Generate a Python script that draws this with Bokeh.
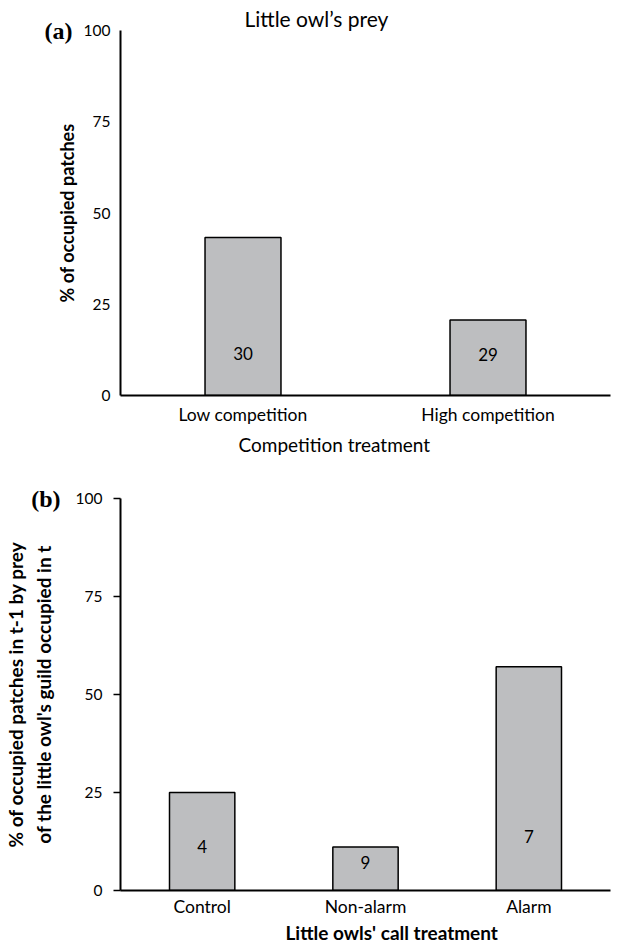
from bokeh.plotting import figure
from bokeh.models import FixedTicker, LinearAxis, Title
from bokeh.layouts import column
from bokeh.embed import file_html
from bokeh.resources import INLINE
from bokeh.core.properties import value

# ---------------- data ----------------
# Panel (a): Little owl's prey
competition = ["Low competition", "High competition"]
occupied_pct_a = [43.3, 20.7]
n_a = ["30", "29"]

# Panel (b): call treatment
call_treatment = ["Control", "Non-alarm", "Alarm"]
occupied_pct_b = [25.0, 11.1, 57.1]
n_b = ["4", "9", "7"]

y_ticks = [0, 25, 50, 75, 100]

# ---------------- style ----------------
GRAY = "#bdbec0"
FONT = "Lato"
n_a_text_y = [11.4, 11.2]
n_b_text_y = [11.2, 7.1, 13.8]


def style_axes(p, ytick_out, ystandoff, label_standoff, xstandoff):
    p.outline_line_color = None
    p.grid.visible = False
    for ax in (p.xaxis[0], p.yaxis[0]):
        ax.axis_line_color = "black"
        ax.axis_line_width = 2
        ax.major_tick_in = 0
        ax.minor_tick_line_color = None
        ax.major_label_text_font = FONT
        ax.major_label_text_color = "black"
        ax.axis_label_text_font = FONT
        ax.axis_label_text_color = "black"
    p.xaxis.major_label_text_font_size = "17.5px"
    p.yaxis.major_label_text_font_size = "15.5px"
    p.xaxis.major_tick_line_color = None
    p.xaxis.major_tick_out = 0
    p.xaxis.major_label_standoff = xstandoff
    p.yaxis.ticker = FixedTicker(ticks=y_ticks)
    p.yaxis.major_tick_out = ytick_out
    p.yaxis.major_tick_line_width = 1.5
    p.yaxis.major_tick_line_color = "black" if ytick_out else None
    p.yaxis.major_label_standoff = ystandoff
    p.yaxis.axis_label_standoff = label_standoff
    p.yaxis.axis_label_text_font_style = "bold"


def panel_tag(text, standoff):
    return LinearAxis(ticker=FixedTicker(ticks=[100]),
                      major_label_overrides={100: text},
                      axis_line_color=None, major_tick_line_color=None,
                      minor_tick_line_color=None, major_tick_out=0,
                      major_tick_in=0, major_label_standoff=standoff,
                      major_label_text_font="Liberation Serif",
                      major_label_text_font_style="bold",
                      major_label_text_font_size="24px",
                      major_label_text_color="black")


def x_title(text, offset, standoff, style):
    return Title(text=text, align="left", offset=offset, standoff=standoff,
                 vertical_align="top", text_font=FONT,
                 text_font_style=style, text_font_size="19px",
                 text_color="black")


# ---------------- panel (a) ----------------
p1 = figure(width=621, height=464, x_range=competition, y_range=(0, 100),
            title="Little owl\u2019s prey",
            output_backend="svg", toolbar_location=None,
            min_border_left=118, min_border_right=11,
            min_border_top=30, min_border_bottom=69)
p1.title.align = "left"
p1.title.offset = 124
p1.title.standoff = 0
p1.title.text_font = FONT
p1.title.text_font_style = "normal"
p1.title.text_font_size = "21px"
p1.title.text_color = "black"
style_axes(p1, 0, 10, 3, 8)
p1.yaxis.axis_label = "% of occupied patches"
p1.yaxis.axis_label_text_font_size = "18px"
p1.add_layout(panel_tag("(a)", -20), "left")
p1.add_layout(x_title("Competition treatment", 118, 11, "normal"), "below")

p1.vbar(x=competition, top=occupied_pct_a, width=0.31, fill_color=GRAY,
        line_color="black", line_width=1.5)
p1.text(x=competition, y=n_a_text_y, text=n_a, text_align="center",
        text_baseline="middle", text_font=value(FONT), text_font_size="17px",
        text_color="black")

# ---------------- panel (b) ----------------
p2 = figure(width=621, height=483, x_range=call_treatment, y_range=(0, 100),
            output_backend="svg", toolbar_location=None,
            min_border_left=120, min_border_right=0,
            min_border_top=34, min_border_bottom=57)
style_axes(p2, 7, 11, 18, 5)
p2.yaxis.axis_label = ("% of occupied patches in t-1 by prey\n"
                       "of the little owl's guild occupied in t")
p2.yaxis.axis_label_text_font_size = "19px"
p2.add_layout(panel_tag("(b)", -60), "left")
p2.add_layout(x_title("Little owls' call treatment", 165, 2, "bold"), "below")

p2.vbar(x=call_treatment, top=occupied_pct_b, width=0.40, fill_color=GRAY,
        line_color="black", line_width=1.5)
p2.text(x=call_treatment, y=n_b_text_y, text=n_b, text_align="center",
        text_baseline="middle", text_font=value(FONT), text_font_size="17px",
        text_color="black")

layout = column(p1, p2, spacing=0)
open("out.html", "w").write(file_html(layout, INLINE))
